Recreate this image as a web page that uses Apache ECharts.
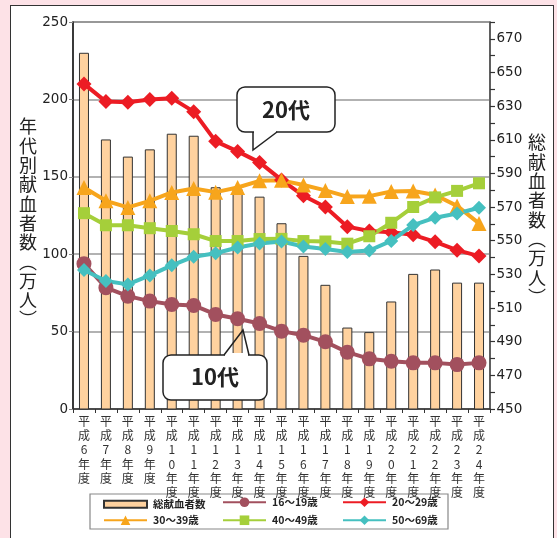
<!DOCTYPE html>
<html><head><meta charset="utf-8">
<script src="https://cdn.jsdelivr.net/npm/echarts@6/dist/echarts.min.js"></script>
<style>
html,body{margin:0;padding:0;background:#FDE2E7;}
#panel{position:absolute;left:10px;top:5px;width:544px;height:540px;background:#fff;border:1.5px solid #333;box-sizing:border-box;}
#chart{position:absolute;left:0;top:0;width:557px;height:538px;}
</style></head>
<body>
<div id="panel"></div>
<div id="chart"></div>
<script>
const categories = ['平成6年度','平成7年度','平成8年度','平成9年度','平成10年度','平成11年度','平成12年度','平成13年度','平成14年度','平成15年度','平成16年度','平成17年度','平成18年度','平成19年度','平成20年度','平成21年度','平成22年度','平成23年度','平成24年度'];
const totalDonors = [661.7, 610.2, 600.0, 604.3, 613.6, 612.4, 581.8, 580.6, 576.2, 560.4, 541.0, 523.8, 498.4, 495.7, 513.9, 530.3, 532.9, 525.1, 525.1];
const age16_19 = [93.9, 78.4, 72.9, 69.7, 67.5, 66.9, 61.1, 58.3, 55.2, 50.3, 47.7, 43.4, 36.7, 32.4, 30.8, 29.8, 29.8, 28.7, 29.8];
const age20_29 = [210.0, 198.6, 198.2, 199.9, 200.8, 192.1, 172.9, 166.4, 159.3, 148.0, 137.7, 130.5, 117.8, 115.0, 114.2, 112.5, 108.0, 102.6, 98.8];
const age30_39 = [143.1, 134.5, 130.2, 134.5, 139.9, 142.5, 140.1, 143.1, 147.4, 147.7, 144.7, 141.2, 137.2, 137.5, 140.5, 140.8, 138.2, 131.2, 119.9];
const age40_49 = [126.5, 118.7, 118.7, 116.8, 115.0, 112.9, 108.5, 108.5, 109.8, 109.9, 108.5, 108.2, 106.8, 111.6, 120.3, 130.5, 136.7, 140.9, 145.8];
const age50_69 = [89.8, 82.7, 80.5, 86.3, 92.8, 98.4, 100.6, 104.3, 106.9, 108.2, 105.0, 103.4, 101.4, 102.4, 108.6, 118.8, 123.6, 126.3, 130.0];
const seriesNames = ['総献血者数','16～19歳','20～29歳','30～39歳','40～49歳','50～69歳'];
const leftTicks = {min:0, max:250, interval:50};
const rightTicks = {min:450, max:680, interval:10, labelStep:20};

const FONT = '"DejaVu Sans","Noto Sans CJK JP",sans-serif';
const JFONT = '"Noto Sans CJK JP","Liberation Sans",sans-serif';
const chart = echarts.init(document.getElementById('chart'), null, {renderer:'canvas'});

function lineSeries(name, data, color, symbol, size){
  return {name, type:'line', data, yAxisIndex:0, symbol, symbolSize:size,
    lineStyle:{color, width:4}, itemStyle:{color, borderWidth:0}, emphasis:{disabled:true}, animation:false};
}
const legendPos = [[103,497],[222,497],[342,497],[103,515],[222,515],[342,515]];
const legends = seriesNames.map((n,i)=>{
  const o = {data:[n], left:legendPos[i][0], top:legendPos[i][1], itemWidth:43, itemHeight: i===0?7:12,
    itemGap:0, padding:0, selectedMode:false,
    textStyle:{fontFamily:JFONT, fontSize:10.5, fontWeight:'bold', color:'#222', padding:[0,0,0,1]}};
  if(i===0){ o.icon='rect'; o.top = legendPos[i][0] && legendPos[i][1]+2; }
  return o;
});

function callout(x,y,w,h,cover,pts,text,tx,ty){
  return [
    {type:'rect', shape:{x,y,width:w,height:h,r:8}, style:{fill:'#fff', stroke:'#222', lineWidth:1.5}, z:100, silent:true},
    {type:'rect', shape:cover, style:{fill:'#fff'}, z:101, silent:true},
    {type:'polyline', shape:{points:pts}, style:{stroke:'#222', lineWidth:1.5, fill:null}, z:102, silent:true},
    {type:'text', x:tx, y:ty, style:{text, fontFamily:JFONT, fontSize:22, fontWeight:'bold', fill:'#222', align:'center', verticalAlign:'middle'}, z:103, silent:true}
  ];
}

chart.setOption({
  animation:false,
  backgroundColor:'transparent',
  grid:{left:73, right:67, top:22, bottom:129, show:true, borderColor:'#333', borderWidth:1.2, backgroundColor:'transparent'},
  legend: legends,
  xAxis:{type:'category', data:categories, boundaryGap:true,
    axisLine:{lineStyle:{color:'#333', width:1.5}},
    axisTick:{show:true, length:4, lineStyle:{color:'#333'}},
    axisLabel:{interval:0, margin:5, fontFamily:JFONT, fontSize:12, lineHeight:14.3, color:'#333',
      formatter:(v)=>v.split('').join('\n')}},
  yAxis:[
    {type:'value', min:leftTicks.min, max:leftTicks.max, interval:leftTicks.interval, position:'left',
      axisLine:{show:true, lineStyle:{color:'#222', width:1.5}},
      axisTick:{show:true, length:4, lineStyle:{color:'#888'}},
      axisLabel:{margin:5, fontFamily:FONT, fontSize:13.5, color:'#222'},
      splitLine:{show:true, lineStyle:{color:'#999', width:1.5}}},
    {type:'value', min:rightTicks.min, max:rightTicks.max, interval:rightTicks.interval, position:'right',
      axisLine:{show:true, lineStyle:{color:'#555', width:1.5}},
      axisTick:{show:true, length:5, lineStyle:{color:'#333', width:1.2}},
      axisLabel:{margin:6.5, fontFamily:FONT, fontSize:13.5, color:'#222',
        formatter:(v)=> ((v-rightTicks.min)%rightTicks.labelStep===0 && v<rightTicks.max) ? String(v) : ''},
      splitLine:{show:false}}
  ],
  series:[
    {name:seriesNames[0], type:'bar', data:totalDonors, yAxisIndex:1, barWidth:10,
      itemStyle:{color:'#FFD29F', borderColor:'#333', borderWidth:1}, emphasis:{disabled:true}, z:1},
    lineSeries(seriesNames[1], age16_19, '#A2505E', 'circle', 15),
    lineSeries(seriesNames[2], age20_29, '#EC1C24', 'diamond', 15),
    lineSeries(seriesNames[3], age30_39, '#F7A51C', 'triangle', 15),
    lineSeries(seriesNames[4], age40_49, '#A5CF3A', 'rect', 12),
    lineSeries(seriesNames[5], age50_69, '#45C0C0', 'diamond', 14)
  ],
  graphic:[
    {type:'rect', shape:{x:90, y:494, width:358, height:35}, style:{fill:'#fff', stroke:'#888', lineWidth:1.2}, z:-1, silent:true},
    ...callout(237,87,98,45,{x:254,y:130,width:22,height:4},[[253,132],[253,150],[277,132]],'20代',286,110),
    ...callout(163,355,104,45,{x:225,y:353,width:23,height:4},[[224,355],[243,330],[249,355]],'10代',215,377),
    {type:'text', x:28, y:117, style:{text:'年\n代\n別\n献\n血\n者\n数\n︵\n万\n人\n︶', fontFamily:JFONT, fontSize:18, lineHeight:19.3, fill:'#222', align:'center', verticalAlign:'top'}, z:50},
    {type:'text', x:537, y:133, style:{text:'総\n献\n血\n者\n数\n︵\n万\n人\n︶', fontFamily:JFONT, fontSize:18, lineHeight:19.3, fill:'#222', align:'center', verticalAlign:'top'}, z:50}
  ]
});
</script>
</body></html>
